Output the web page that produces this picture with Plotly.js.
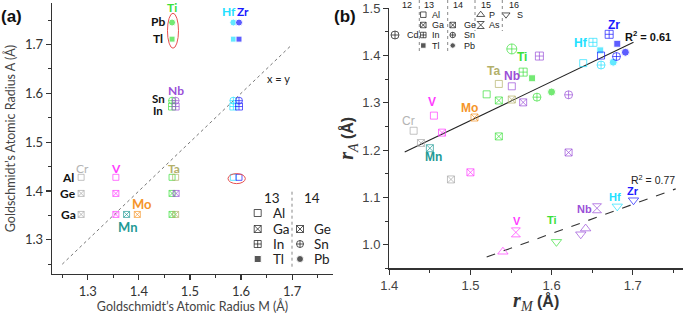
<!DOCTYPE html>
<html><head><meta charset="utf-8">
<script src="https://cdn.plot.ly/plotly-3.0.1.min.js"></script>
<style>html,body{margin:0;padding:0;background:#fff}</style>
</head><body><div id="chart" style="width:685px;height:314px"></div>
<script>
// ---------- DATA: panel (a) Goldschmidt radii ----------
const aElem  = ['Cr','V','Ti','Ta','Hf','Zr',
                'Cr','V','Ti','Nb',
                'Cr','V','Mn','Mo','Ti','Ta',
                'Ti','Nb','Hf','Zr',
                'Ti','Nb','Hf','Zr',
                'Ti','Hf','Zr',
                'Ti','Hf','Zr'];
const aAnion = ['Al','Al','Al','Al','Al','Al',
                'Ge','Ge','Ge','Ge',
                'Ga','Ga','Ga','Ga','Ga','Ga',
                'Sn','Sn','Sn','Sn',
                'In','In','In','In',
                'Pb','Pb','Pb',
                'Tl','Tl','Tl'];
const aRadM  = [1.287,1.355,1.465,1.472,1.585,1.596,
                1.287,1.355,1.465,1.473,
                1.287,1.355,1.376,1.397,1.465,1.472,
                1.465,1.472,1.585,1.596,
                1.465,1.472,1.585,1.596,
                1.465,1.585,1.596,
                1.465,1.585,1.596];
const aRadA  = [1.428,1.428,1.428,1.428,1.428,1.428,
                1.395,1.395,1.395,1.395,
                1.352,1.352,1.352,1.352,1.352,1.352,
                1.585,1.585,1.585,1.585,
                1.573,1.573,1.573,1.573,
                1.745,1.745,1.745,
                1.711,1.711,1.711];
const diagX = [1.25, 1.70];
const diagY = [1.25, 1.70];

// ---------- DATA: panel (b) r_M vs r_A ----------
const bElem  = ['Ti','Nb','Ti','Ti','Ta','Nb','Ti','Ti','Ta','Nb','Ti','Ti','Nb',
                'V','Mo','Cr','V','Cr','Ti','Mn','Nb','Cr','V',
                'Hf','Zr','Zr','Hf','Zr','Hf','Hf','Hf','Zr','Zr',
                'V','V','Ti','Nb','Nb','Nb','Hf','Zr'];
const bAnion = ['Cd','In','In','Tl','Al','Al','Al','Ga','Ga','Ge','Sn','Pb','Sn',
                'Al','Ga','Al','Ga','Ga','Ge','Ga','Ge','Ge','Ge',
                'In','In','Tl','Tl','Al','Al','Sn','Pb','Sn','Pb',
                'As','P','S','S','P','As','S','S'];
const bRM    = [1.551,1.585,1.565,1.576,1.535,1.551,1.520,1.535,1.551,1.565,1.582,1.600,1.621,
                1.455,1.505,1.430,1.465,1.439,1.535,1.450,1.621,1.476,1.500,
                1.651,1.671,1.681,1.660,1.661,1.639,1.661,1.676,1.680,1.691,
                1.556,1.540,1.606,1.636,1.642,1.656,1.681,1.701];
const bRA    = [1.414,1.399,1.365,1.352,1.340,1.335,1.318,1.305,1.307,1.301,1.312,1.323,1.317,
                1.273,1.269,1.241,1.237,1.215,1.229,1.204,1.195,1.138,1.153,
                1.428,1.445,1.425,1.411,1.400,1.384,1.380,1.386,1.398,1.407,
                1.026,0.985,1.006,1.022,1.034,1.077,1.081,1.094];
const fitX1 = [1.419, 1.701];
const fitY1 = [1.196, 1.428];
const fitX2 = [1.520, 1.753];
const fitY2 = [0.974, 1.118];

// legend keys (anion symbol names; positions are layout, in page pixels)
const keyAnion = ['Al','Ga','In','Tl','Ge','Sn','Pb',
                  'Cd','Al','Ga','In','Tl','Ge','Sn','Pb','P','As','S'];

// ---------- STYLE / LAYOUT ----------
const keyPosX = [257.7,257.7,257.7,257.7,300,300,300,
                 395,423.3,423.3,423.3,423.3,452.7,452.7,452.7,480.7,480.7,506];
const keyPosY = [213,229,244,259,229,244,259,
                 35,14.7,25,35,45.5,25,35,45.5,14.7,25,14.7];
const keySize = [7,7,7,7,7,7,7, 8,5.5,5.5,5.5,5.5,5.5,5.5,5.5,7,7,7];

const colorMap = {Cr:'#a8a8a8', V:'#ff3cff', Mn:'#1f9a96', Mo:'#f5952a', Ta:'#b3b06a',
                  Ti:'#3ae03a', Nb:'#9a4fd8', Hf:'#22e0ff', Zr:'#1a1aff'};
const symMap = {Al:'square-open', Ga:'square-x-open', In:'square-cross-open', Tl:'square',
                Ge:'square-x-open', Sn:'circle-cross-open', Pb:'circle', Cd:'circle-cross-open',
                P:'triangle-up-open', As:'hourglass-open', S:'triangle-down-open'};
const sizeMap = {Al:6, Ga:6, In:7, Tl:6, Ge:6, Sn:7, Pb:7, Cd:9, P:8, As:8, S:8};

const W = 685, H = 314;
const px = v => v / W, py = v => 1 - v / H;
const AX = '#333';

const traces = [
  {x: diagX, y: diagY, xaxis:'x', yaxis:'y', mode:'lines', line:{color:'#777', width:1, dash:'dot'}, hoverinfo:'skip'},
  {x: aRadM, y: aRadA, xaxis:'x', yaxis:'y', mode:'markers',
   marker:{symbol: aAnion.map(s=>symMap[s]), color: aElem.map(e=>colorMap[e]),
           size: aAnion.map(s=>sizeMap[s]), line:{width:1}}},
  {x: fitX1, y: fitY1, xaxis:'x2', yaxis:'y2', mode:'lines', line:{color:'#222', width:1.1}},
  {x: fitX2, y: fitY2, xaxis:'x2', yaxis:'y2', mode:'lines', line:{color:'#333', width:1.1, dash:'dash'}},
  {x: bRM, y: bRA, xaxis:'x2', yaxis:'y2', mode:'markers',
   marker:{symbol: bAnion.map(s=>symMap[s]), color: bElem.map(e=>colorMap[e]),
           size: bAnion.map(s=>sizeMap[s]+1), line:{width:1}}},
  {x: keyPosX, y: keyPosY, xaxis:'x3', yaxis:'y3', mode:'markers', hoverinfo:'skip',
   marker:{symbol: keyAnion.map(s=>symMap[s]), color:'#111', size: keySize, line:{width:1}}}
];

function T(text, x, y, o) {
  o = o || {};
  return {text, x: px(x), y: py(y), xref:'paper', yref:'paper', showarrow:false,
          xanchor: o.xa || 'center', yanchor: 'middle',
          font:{family: o.f || 'Lato, sans-serif', size: o.s || 12, color: o.c || '#222'}};
}
const LA = 'Lato, sans-serif', AR = 'Liberation Sans, Arial, sans-serif';
const B = t => '<b>' + t + '</b>';

const ann = [
  T(B('(a)'), 11, 17, {f:AR, s:17, c:'#111'}),
  T(B('(b)'), 345, 17, {f:AR, s:17, c:'#111'}),
  // panel a labels
  T(B('Ti'), 172, 7.5, {c:colorMap.Ti}),
  T(B('Hf'), 228.7, 11.7, {c:colorMap.Hf}),
  T(B('Zr'), 242.7, 11.7, {c:colorMap.Zr}),
  T(B('Pb'), 158, 21.7, {c:'#111'}),
  T(B('Tl'), 158, 38.3, {c:'#111'}),
  T(B('Sn'), 158, 98.5, {s:11.5, c:'#111'}),
  T(B('In'), 158, 110.5, {s:11.5, c:'#111'}),
  T(B('Nb'), 176, 90.7, {c:colorMap.Nb}),
  T('Cr', 82.7, 168.3, {c:'#b4b4b4'}),
  T(B('V'), 116, 168.3, {c:colorMap.V}),
  T(B('Ta'), 174.3, 168.3, {c:colorMap.Ta}),
  T(B('Al'), 68, 177.7, {c:'#111'}),
  T(B('Ge'), 68, 193.3, {c:'#111'}),
  T(B('Ga'), 68, 214.3, {c:'#111'}),
  T(B('Mo'), 141.7, 204, {s:13, c:colorMap.Mo}),
  T(B('Mn'), 127.7, 227.3, {s:13, c:colorMap.Mn}),
  T('x = y', 278.3, 78.3, {s:11, c:'#222'}),
  // panel a legend text
  T('13', 271.7, 198.3, {s:13.5}), T('14', 311.7, 198.3, {s:13.5}),
  T('Al', 270.5, 213, {xa:'left', s:13.5}),
  T('Ga', 270.5, 229, {xa:'left', s:13.5}),
  T('In', 270.5, 244, {xa:'left', s:13.5}),
  T('Tl', 270.5, 259, {xa:'left', s:13.5}),
  T('Ge', 311.5, 229, {xa:'left', s:13.5}),
  T('Sn', 311.5, 244, {xa:'left', s:13.5}),
  T('Pb', 311.5, 259, {xa:'left', s:13.5}),
  // panel b labels
  T('Cr', 408.3, 120.7, {f:AR, s:12, c:'#b4b4b4'}),
  T(B('V'), 432.3, 102.3, {f:AR, s:12, c:colorMap.V}),
  T(B('Mo'), 469.3, 108.3, {f:AR, s:12, c:colorMap.Mo}),
  T(B('Ta'), 493.3, 71, {f:AR, s:12, c:colorMap.Ta}),
  T(B('Nb'), 512.3, 76, {f:AR, s:12, c:colorMap.Nb}),
  T(B('Ti'), 521.7, 57.3, {f:AR, s:12, c:colorMap.Ti}),
  T(B('Hf'), 581.3, 43.3, {f:AR, s:12, c:colorMap.Hf}),
  T(B('Zr'), 614, 25, {f:AR, s:12, c:colorMap.Zr}),
  T(B('Mn'), 433.3, 156.7, {f:AR, s:12, c:colorMap.Mn}),
  T(B('V'), 516.7, 221, {f:AR, s:11, c:colorMap.V}),
  T(B('Ti'), 552.3, 220, {f:AR, s:11, c:colorMap.Ti}),
  T(B('Nb'), 584.3, 209, {f:AR, s:11, c:colorMap.Nb}),
  T(B('Hf'), 615, 197.3, {f:AR, s:11, c:colorMap.Hf}),
  T(B('Zr'), 632.7, 190.7, {f:AR, s:11, c:colorMap.Zr}),
  T(B('R<sup>2</sup> = 0.61'), 648.3, 36, {f:AR, s:11, c:'#111'}),
  T('R<sup>2</sup> = 0.77', 652.7, 179, {f:AR, s:10.5, c:'#222'}),
  // panel b legend text
  T('12', 406.7, 5, {f:AR, s:9}), T('13', 429.3, 5, {f:AR, s:9}), T('14', 458.3, 5, {f:AR, s:9}),
  T('15', 486, 5, {f:AR, s:9}), T('16', 514, 5, {f:AR, s:9}),
  T('Cd', 405, 35, {xa:'left', f:AR, s:9}),
  T('Al', 430, 14.7, {xa:'left', f:AR, s:9}),
  T('Ga', 430, 25, {xa:'left', f:AR, s:9}),
  T('In', 430, 35, {xa:'left', f:AR, s:9}),
  T('Tl', 430, 45.5, {xa:'left', f:AR, s:9}),
  T('Ge', 461.5, 25, {xa:'left', f:AR, s:9}),
  T('Sn', 461.5, 35, {xa:'left', f:AR, s:9}),
  T('Pb', 461.5, 45.5, {xa:'left', f:AR, s:9}),
  T('P', 487.3, 14.7, {xa:'left', f:AR, s:9}),
  T('As', 487.3, 25, {xa:'left', f:AR, s:9}),
  T('S', 515, 14.7, {xa:'left', f:AR, s:9})
];

const dotLine = (x, y0, y1) => ({type:'line', xref:'paper', yref:'paper', x0:px(x), x1:px(x), y0:py(y0), y1:py(y1),
                                  line:{color:'#888', width:1, dash:'dot'}});
const shapes = [
  {type:'circle', xref:'x', yref:'y', x0:1.456, x1:1.4776, y0:1.6924, y1:1.764, line:{color:'#e85050', width:1}},
  {type:'circle', xref:'x', yref:'y', x0:1.5745, x1:1.6084, y0:1.4151, y1:1.4356, line:{color:'#e85050', width:1}},
  dotLine(292, 191.7, 268.3), dotLine(419.3, 0, 53), dotLine(447.7, 0, 53), dotLine(475, 0, 31), dotLine(502.3, 0, 31)
];

function axisBase(font) {
  return {showline:true, linecolor:AX, linewidth:1.3, ticks:'outside', ticklen:5, tickwidth:1.2, tickcolor:AX,
          showgrid:false, zeroline:false, tickformat:'.1f', tickfont:font};
}
const mn = d => ({dtick:d, ticks:'outside', ticklen:3, tickwidth:1, tickcolor:AX});
const fa = {family:LA, size:13, color:'#333'};
const fb = {family:AR, size:13, color:'#444'};

const layout = {
  width:W, height:H, margin:{l:0, r:0, t:0, b:0}, showlegend:false,
  paper_bgcolor:'#fff', plot_bgcolor:'rgba(0,0,0,0)',
  xaxis: Object.assign(axisBase(fa), {domain:[px(52), px(333)], range:[1.23,1.78], anchor:'y',
         tick0:1.3, dtick:0.1, minor:mn(0.05),
         title:{text:'Goldschmidt’s Atomic Radius M (Å)', font:{family:LA, size:12.5, color:'#444'}, standoff:3}}),
  yaxis: Object.assign(axisBase(fa), {domain:[py(274), py(3)], range:[1.23,1.785], anchor:'x',
         tick0:1.3, dtick:0.1, minor:mn(0.05),
         title:{text:'Goldschmidt’s Atomic Radius A (Å)', font:{family:LA, size:12.5, color:'#444'}, standoff:6}}),
  xaxis2: Object.assign(axisBase(fb), {domain:[px(389.3), px(683)], range:[1.4,1.762], anchor:'y2',
         tick0:1.4, dtick:0.1, minor:mn(0.05),
         title:{text:'<span style="font-family:Liberation Serif;font-size:20px"><b><i>r</i></b><sub><i>M</i></sub></span> <b>(Å)</b>',
                font:{family:AR, size:16, color:'#333'}, standoff:4}}),
  yaxis2: Object.assign(axisBase(fb), {domain:[py(268.3), py(8.3)], range:[0.95,1.5], anchor:'x2',
         tick0:1.0, dtick:0.1, minor:mn(0.05),
         title:{text:'<span style="font-family:Liberation Serif;font-size:20px"><b><i>r</i></b><sub><i>A</i></sub></span> <b>(Å)</b>',
                font:{family:AR, size:16, color:'#333'}, standoff:4}}),
  xaxis3: {domain:[0,1], range:[0,W], anchor:'y3', visible:false, fixedrange:true},
  yaxis3: {domain:[0,1], range:[H,0], anchor:'x3', visible:false, fixedrange:true},
  annotations: ann, shapes: shapes
};

Plotly.newPlot('chart', traces, layout, {displayModeBar:false, staticPlot:true});
</script></body></html>
